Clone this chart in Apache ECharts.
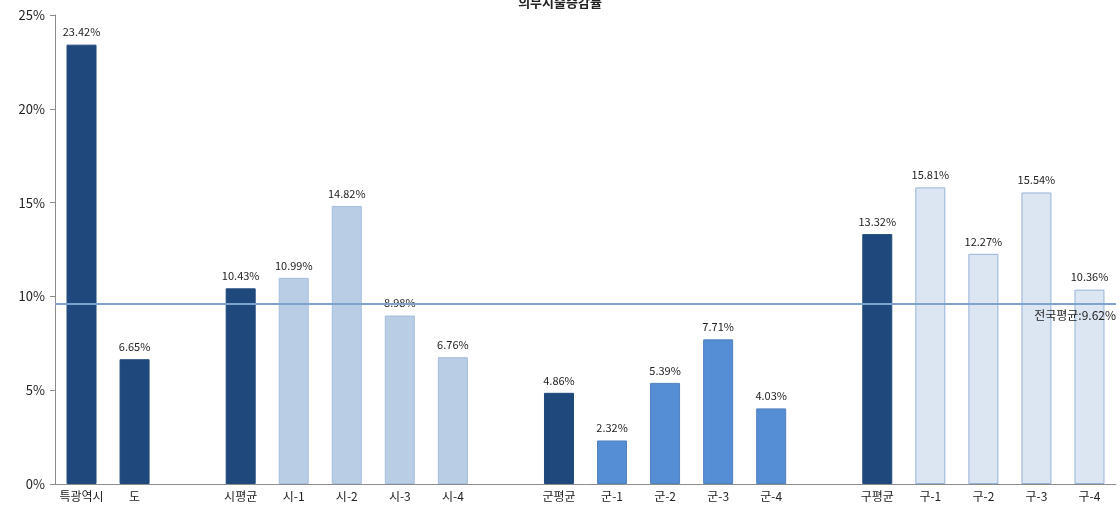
<!DOCTYPE html>
<html><head><meta charset="utf-8">
<script src="https://cdn.jsdelivr.net/npm/echarts@6/dist/echarts.min.js"></script>
<style>html,body{margin:0;padding:0;background:#fff}#c{width:1120px;height:509px}</style>
</head><body><div id="c"></div>
<script>
const title = '의무지출증감률';
const categories = ['특광역시','도','','시평균','시-1','시-2','시-3','시-4','','군평균','군-1','군-2','군-3','군-4','','구평균','구-1','구-2','구-3','구-4'];
const values = [23.42,6.65,null,10.43,10.99,14.82,8.98,6.76,null,4.86,2.32,5.39,7.71,4.03,null,13.32,15.81,12.27,15.54,10.36];
const nationalAvg = 9.62;
const nationalAvgLabel = '전국평균';
const yTicks = [0,5,10,15,20,25];

function colorFor(name){
  if (name === '특광역시' || name === '도' || name.endsWith('평균')) return {c:'#1f497d', b:'#1f497d'};
  if (name.startsWith('시-')) return {c:'#b9cde5', b:'#a5bedd'};
  if (name.startsWith('군-')) return {c:'#558ed5', b:'#4f81bd'};
  return {c:'#dce6f2', b:'#95b3d7'};
}

const chart = echarts.init(document.getElementById('c'));
chart.setOption({
  animation:false,
  title:{text:title,left:'center',top:-9,textStyle:{fontSize:13,fontWeight:'bold',color:'#222',fontFamily:'Noto Sans CJK KR'}},
  grid:{left:55,right:4,top:15,bottom:25},
  xAxis:{type:'category',data:categories,
    axisLine:{lineStyle:{color:'#8c8c8c'}},axisTick:{show:false},
    axisLabel:{color:'#222',fontSize:12,fontFamily:'Noto Sans CJK KR',interval:0,margin:6}},
  yAxis:{type:'value',min:yTicks[0],max:yTicks[yTicks.length-1],interval:5,
    splitLine:{show:false},
    axisLine:{show:true,lineStyle:{color:'#8c8c8c'}},
    axisTick:{show:true,length:5,lineStyle:{color:'#8c8c8c'}},
    axisLabel:{formatter:'{value}%',color:'#222',fontSize:13,fontFamily:'Noto Sans CJK KR',margin:10}},
  series:[{type:'bar',barWidth:30,
    data:values.map((v,i)=>{const col=colorFor(categories[i]);return {value:v,itemStyle:{color:col.c,borderColor:col.b,borderWidth:1}};}),
    label:{show:true,position:'top',distance:7,formatter:p=>p.value.toFixed(2)+'%',color:'#222',fontSize:11,fontFamily:'Noto Sans CJK KR'},
    markLine:{symbol:'none',silent:true,
      lineStyle:{color:'#7ea3cf',width:2,type:'solid'},
      label:{position:'insideEndBottom',formatter:nationalAvgLabel+':'+nationalAvg.toFixed(2)+'%',color:'#222',fontSize:12,fontFamily:'Noto Sans CJK KR',distance:[0,6]},
      data:[{yAxis:nationalAvg}]}
  }]
});
</script></body></html>
